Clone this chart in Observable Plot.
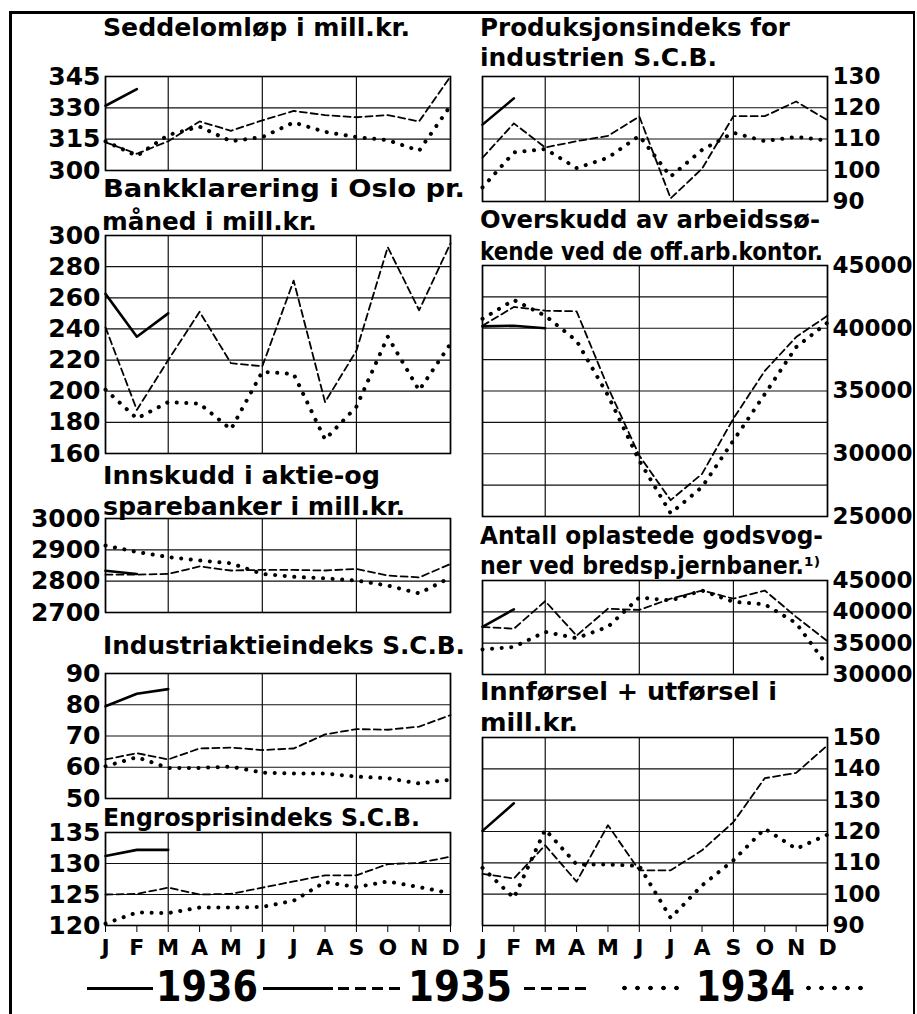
<!DOCTYPE html>
<html><head><meta charset="utf-8">
<script src="https://cdn.jsdelivr.net/npm/d3@7"></script>
<script src="https://cdn.jsdelivr.net/npm/@observablehq/plot@0.6"></script>
<style>
html,body{margin:0;padding:0;background:#fff;}
#root{position:relative;width:917px;height:1014px;overflow:hidden;background:#fff;font-family:"DejaVu Sans",sans-serif;color:#000;}
.t{position:absolute;white-space:nowrap;font-weight:bold;line-height:1;transform-origin:0 50%;color:#000;}
svg.pp text{font-family:"DejaVu Sans",sans-serif;font-weight:bold;fill:#000;}
svg.pl g[aria-label^="y-axis"] text{font-size:25px;}
svg.pr g[aria-label^="y-axis"] text{font-size:23px;}
svg.pp g[aria-label^="x-axis"] text{font-size:22px;}
</style></head><body><div id="root"></div>
<script>
// ---------- data ----------
const months = ["J","F","M","A","M","J","J","A","S","O","N","D"];
const years = ["1936","1935","1934"];

const seddel1936 = [331, 339];
const seddel1935 = [313.5, 308, 314, 323.5, 319, 324, 328.5, 326.5, 325.5, 326.5, 323.5, 345];
const seddel1934 = [314, 307, 317, 321, 314, 316, 323, 318.5, 316, 314.5, 309.5, 331];

const bank1936 = [262.5, 235, 250];
const bank1935 = [241, 188, 220, 251, 218, 216, 271, 193, 226, 292.5, 252, 295];
const bank1934 = [201, 182.5, 193, 192, 175.5, 212.5, 211, 169, 190, 235, 200.5, 230.5];

const innskudd1936 = [2833, 2823];
const innskudd1935 = [2821, 2821, 2823, 2847, 2834, 2836, 2836, 2834, 2839, 2818, 2812, 2855];
const innskudd1934 = [2914, 2893, 2877, 2866, 2857, 2823, 2814, 2809, 2802, 2786, 2761, 2812];

const aktie1936 = [79.5, 83.5, 85];
const aktie1935 = [62.5, 64.5, 62.5, 66, 66.3, 65.5, 66, 70.5, 72.2, 72, 73, 76.7];
const aktie1934 = [60.3, 63.2, 59.8, 59.8, 60.2, 58.3, 58, 58, 57, 56.5, 54.8, 56];

const engros1936 = [131.2, 132.2, 132.2];
const engros1935 = [125, 125.1, 126.1, 125, 125.1, 126.1, 127.1, 128.1, 128.1, 129.9, 130.1, 131.1];
const engros1934 = [120.3, 122.1, 122, 122.9, 122.9, 123, 124, 127, 126.2, 127.1, 126.2, 125.2];

const prod1936 = [114.6, 123];
const prod1935 = [104, 115, 107.3, 109.3, 111, 117.2, 91, 100.5, 117.3, 117.3, 122, 116];
const prod1934 = [94.5, 105.7, 106.8, 100.7, 104, 111, 98, 106.5, 112, 109.3, 110.7, 109.5];

const ledige1936 = [40150, 40200, 40000];
const ledige1935 = [40200, 41700, 41400, 41350, 35300, 29850, 26300, 28400, 32800, 36600, 39300, 41000];
const ledige1934 = [40750, 42250, 41000, 39000, 34650, 29450, 25250, 27350, 31050, 34750, 38500, 40450];

const vogner1936 = [37600, 40400];
const vogner1935 = [37600, 37300, 41700, 36200, 40500, 40300, 42100, 43400, 42100, 43400, 39200, 35300];
const vogner1934 = [34000, 34400, 36800, 35800, 37600, 42300, 41800, 43400, 41600, 41200, 38200, 31400];

const handel1936 = [120.2, 129];
const handel1935 = [106.5, 105, 115.6, 104, 122, 107.6, 107.6, 114, 123, 137, 138.7, 147.5];
const handel1934 = [108.4, 98.8, 120.6, 109.5, 109.5, 109, 92.4, 102.8, 110.8, 120.9, 114.5, 119];

const seddelTicks = [300, 315, 330, 345];
const bankTicks = [160, 180, 200, 220, 240, 260, 280, 300];
const innskuddTicks = [2700, 2800, 2900, 3000];
const aktieTicks = [50, 60, 70, 80, 90];
const engrosTicks = [120, 125, 130, 135];
const prodTicks = [90, 100, 110, 120, 130];
const ledigeTicks = [25000, 30000, 35000, 40000, 45000];
const ledigeGrid = [25000, 27500, 30000, 32500, 35000, 37500, 40000, 42500, 45000];
const vognerTicks = [30000, 35000, 40000, 45000];
const handelTicks = [90, 100, 110, 120, 130, 140, 150];
const monthGrid = [0, 2, 5, 8, 11];

const titleTexts = [
  "Seddelomløp i mill.kr.",
  "Bankklarering i Oslo pr.",
  "måned i mill.kr.",
  "Innskudd i aktie-og",
  "sparebanker i mill.kr.",
  "Industriaktieindeks S.C.B.",
  "Engrosprisindeks S.C.B.",
  "Produksjonsindeks for",
  "industrien S.C.B.",
  "Overskudd av arbeidssø-",
  "kende ved de off.arb.kontor.",
  "Antall oplastede godsvog-",
  "ner ved bredsp.jernbaner.¹⁾",
  "Innførsel + utførsel i",
  "mill.kr."
];

// ---------- layout ----------
const root = document.getElementById("root");
const titleBoxes = [
  [103, 410, 28], [103, 465, 189], [102, 317, 222], [103, 380, 476], [103, 405, 507],
  [103, 465, 646], [103, 420, 818], [480, 790, 28], [480, 717, 58], [480, 820, 220],
  [480, 823, 252], [480, 823, 536], [480, 820, 566], [480, 777, 692], [480, 578, 723]
];

const panels = [
  {side: "L", top: 76, bottom: 170, domain: [300, 345], ticks: seddelTicks, grid: seddelTicks, series: [seddel1936, seddel1935, seddel1934]},
  {side: "L", top: 235, bottom: 453, domain: [160, 300], ticks: bankTicks, grid: bankTicks, series: [bank1936, bank1935, bank1934]},
  {side: "L", top: 518, bottom: 612, domain: [2700, 3000], ticks: innskuddTicks, grid: innskuddTicks, series: [innskudd1936, innskudd1935, innskudd1934]},
  {side: "L", top: 673, bottom: 798, domain: [50, 90], ticks: aktieTicks, grid: aktieTicks, series: [aktie1936, aktie1935, aktie1934]},
  {side: "L", top: 832, bottom: 925, domain: [120, 135], ticks: engrosTicks, grid: engrosTicks, series: [engros1936, engros1935, engros1934], xAxis: true},
  {side: "R", top: 76, bottom: 201, domain: [90, 130], ticks: prodTicks, grid: prodTicks, series: [prod1936, prod1935, prod1934]},
  {side: "R", top: 265, bottom: 516, domain: [25000, 45000], ticks: ledigeTicks, grid: ledigeGrid, series: [ledige1936, ledige1935, ledige1934]},
  {side: "R", top: 580, bottom: 674, domain: [30000, 45000], ticks: vognerTicks, grid: vognerTicks, series: [vogner1936, vogner1935, vogner1934]},
  {side: "R", top: 737, bottom: 925, domain: [90, 150], ticks: handelTicks, grid: handelTicks, series: [handel1936, handel1935, handel1934], xAxis: true}
];

// outer frame
const frame = document.createElement("div");
Object.assign(frame.style, {position: "absolute", left: "9px", top: "11px", width: "906px", height: "1020px",
  borderLeft: "3px solid #000", borderTop: "3px solid #000", borderRight: "2px solid #000", boxSizing: "border-box"});
root.appendChild(frame);

function drawPanel(p) {
  const L = p.side === "L";
  const mt = 16, mb = p.xAxis ? 40 : 16;
  const svgLeft = L ? 0 : 460;
  const width = L ? 470 : 457;
  const ml = L ? 105 : 22, mr = L ? 20 : 90;
  const h = p.bottom - p.top + mt + mb;
  const [r36, r35, r34] = p.series.map(arr => arr.map((v, m) => ({m, v})));
  const chart = Plot.plot({
    width, height: h, marginTop: mt, marginBottom: mb, marginLeft: ml, marginRight: mr,
    style: {background: "none", overflow: "visible", fontFamily: "'DejaVu Sans', sans-serif", fontWeight: "bold", fontSize: L ? "25px" : "23px", color: "#000"},
    x: {type: "linear", domain: [0, 11], ticks: d3.range(12), tickFormat: k => months[k], tickSize: p.xAxis ? 7 : 0, tickPadding: 7, axis: p.xAxis ? "bottom" : null, label: null},
    y: {type: "linear", domain: p.domain, ticks: p.ticks, tickFormat: d => String(d), tickSize: 0, tickPadding: 5, axis: L ? "left" : "right", label: null},
    marks: [
      Plot.ruleY(p.grid, {stroke: "#111", strokeWidth: 1.2}),
      Plot.ruleX(monthGrid, {stroke: "#111", strokeWidth: 1.2}),
      Plot.line(r34, {x: "m", y: "v", stroke: "#000", strokeWidth: 4, strokeDasharray: "0.1 9.5", strokeLinecap: "round"}),
      Plot.line(r35, {x: "m", y: "v", stroke: "#000", strokeWidth: 1.8, strokeDasharray: "7 4"}),
      Plot.line(r36, {x: "m", y: "v", stroke: "#000", strokeWidth: 2.6}),
      Plot.frame({stroke: "#000", strokeWidth: 1.6})
    ]
  });
  chart.classList.add("pp", L ? "pl" : "pr");
  Object.assign(chart.style, {position: "absolute", left: svgLeft + "px", top: (p.top - mt) + "px"});
  root.appendChild(chart);
}
panels.forEach(drawPanel);

function fitText(text, x1, x2, cy, size) {
  const d = document.createElement("div");
  d.className = "t";
  d.textContent = text;
  d.style.fontSize = size + "px";
  d.style.left = x1 + "px";
  d.style.top = (cy - size / 2) + "px";
  root.appendChild(d);
  const w = d.getBoundingClientRect().width;
  d.style.transform = `scaleX(${(x2 - x1) / w})`;
  return d;
}
titleTexts.forEach((t, i) => fitText(t, titleBoxes[i][0], titleBoxes[i][1], titleBoxes[i][2], 24));

// legend
function legendLine(kind, x1, x2, cy) {
  const d = document.createElement("div");
  const s = {position: "absolute", left: x1 + "px", width: (x2 - x1) + "px"};
  if (kind === "solid") Object.assign(s, {top: (cy - 1.5) + "px", height: "3px", background: "#000"});
  if (kind === "dash") Object.assign(s, {top: (cy - 1.5) + "px", height: "3px", background: "repeating-linear-gradient(to right,#000 0 11px,transparent 11px 17px)"});
  if (kind === "dot") Object.assign(s, {top: (cy - 3) + "px", height: "6px", background: "radial-gradient(circle,#000 2px,transparent 2.6px)", backgroundSize: "13px 6px"});
  Object.assign(d.style, s);
  root.appendChild(d);
}
const legendY = 988;
legendLine("solid", 87, 153, legendY);
legendLine("solid", 263, 333, legendY);
legendLine("dash", 338, 405, legendY);
legendLine("dash", 524, 590, legendY);
legendLine("dot", 618, 684, legendY);
legendLine("dot", 802, 871, legendY);
fitText(years[0], 156, 258, legendY - 1, 42);
fitText(years[1], 408, 512, legendY - 1, 42);
fitText(years[2], 696, 795, legendY - 1, 42);
</script></body></html>
